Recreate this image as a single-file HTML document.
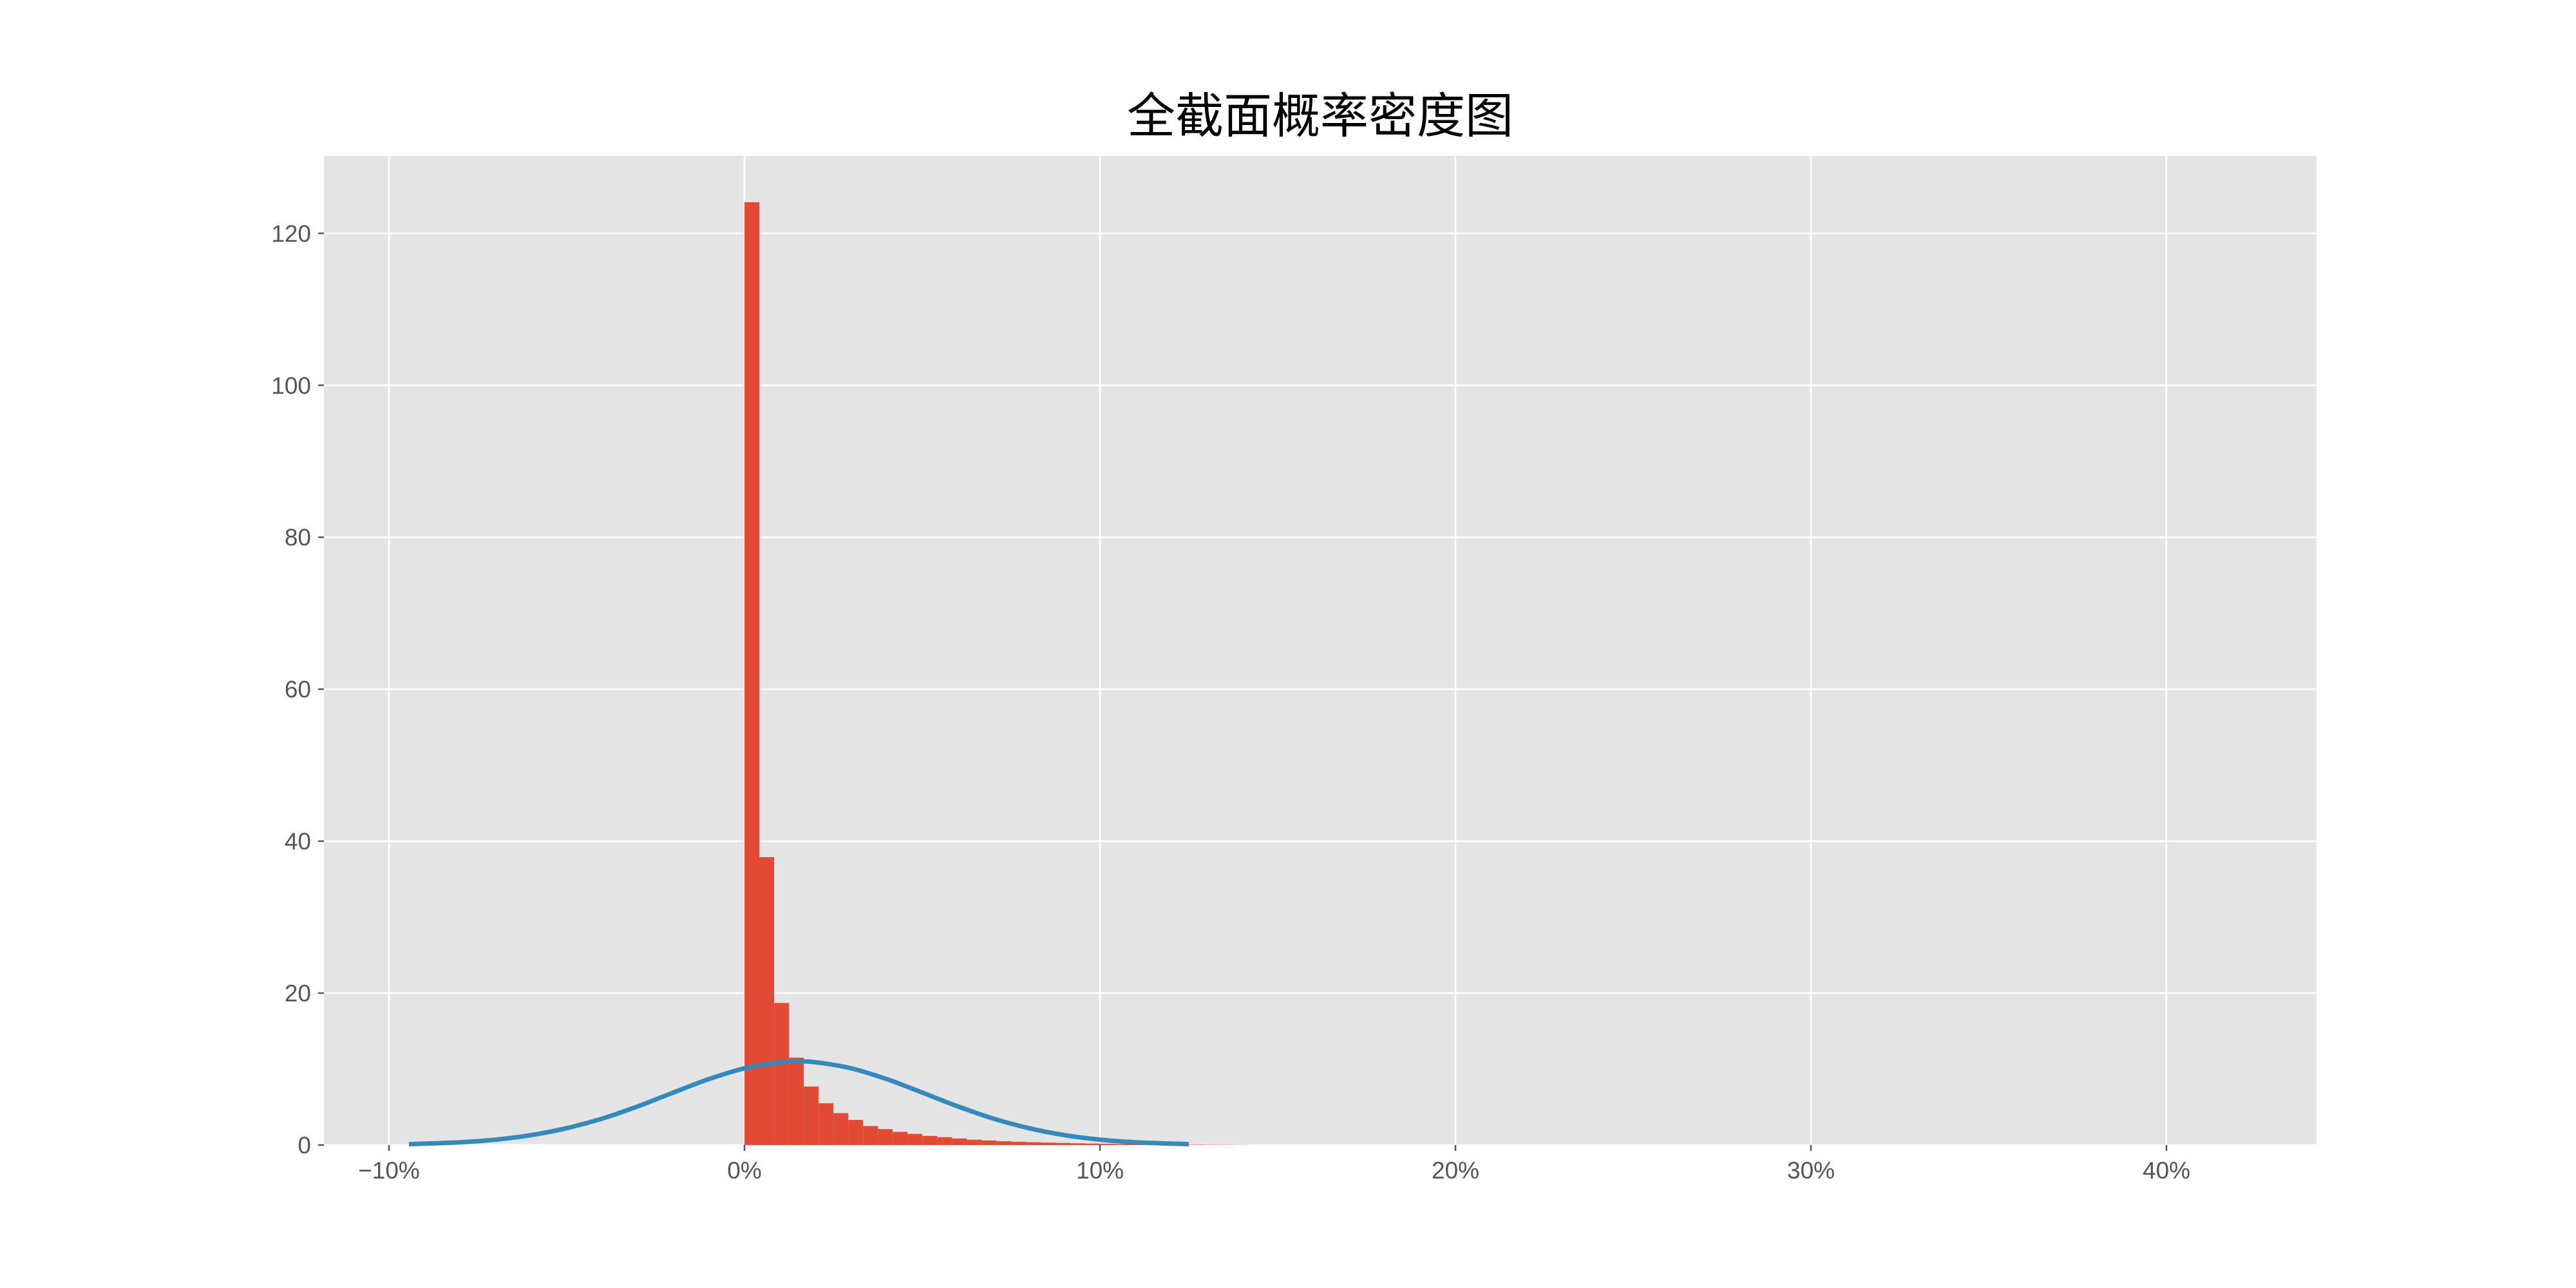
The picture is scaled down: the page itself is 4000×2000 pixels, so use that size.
<!DOCTYPE html>
<html><head><meta charset="utf-8"><style>
html,body{margin:0;padding:0;background:#fff;}
svg{display:block;}
text{font-family:"Liberation Sans","Noto Sans CJK SC",sans-serif;}
</style></head><body>
<svg id="chart" width="4000" height="2000" viewBox="0 0 4000 2000" xmlns="http://www.w3.org/2000/svg">
<rect x="0" y="0" width="4000" height="2000" fill="#fff"/>
<text x="2050" y="206" font-size="75" text-anchor="middle" fill="#000">全截面概率密度图</text>
<rect x="503" y="242" width="3094" height="1536" fill="#E5E5E5"/>
<g id="grid"></g><g id="bars"></g><g id="curve"></g><g id="axes"></g>
</svg>
<script>
const xTicks=[-10,0,10,20,30,40];
const xTickLabels=["\u221210%","0%","10%","20%","30%","40%"];
const yTicks=[0,20,40,60,80,100,120];
const yTickLabels=["0","20","40","60","80","100","120"];
const binStart=0;
const binWidth=0.417;
const binHeights=[124.1,37.9,18.7,11.5,7.7,5.5,4.2,3.3,2.5,2.1,1.73,1.47,1.2,1.04,0.86,0.7,0.6,0.5,0.43,0.37,0.32,0.27,0.23,0.19,0.16,0.13,0.11,0.09,0.07,0.06,0.05,0.04,0.03,0.02];
const curveX=[-9.44,-8,-7,-6,-5,-4,-3,-2,-1,0,1,1.5,2,3,4,5,6,7,8,9,10,11,12.5];
const curveY=[0.11,0.36,0.71,1.31,2.22,3.48,5.09,6.91,8.68,10.1,10.9,11,10.9,10.1,8.68,6.91,5.09,3.48,2.22,1.31,0.71,0.36,0.11];

const L=503,R=3597,T=242,B=1778,xMin=-11.83,xMax=44.22,yMin=0,yMax=130.2;
const sx=v=>L+(v-xMin)/(xMax-xMin)*(R-L);
const sy=v=>B-(v-yMin)/(yMax-yMin)*(B-T);
const NS="http://www.w3.org/2000/svg";
function mk(tag,attrs,parent){const e=document.createElementNS(NS,tag);for(const k in attrs)e.setAttribute(k,attrs[k]);parent.appendChild(e);return e;}
const grid=document.getElementById('grid'),bars=document.getElementById('bars'),curve=document.getElementById('curve'),axes=document.getElementById('axes');
xTicks.forEach((t,i)=>{
  const g=mk('line',{x1:sx(t),x2:sx(t),y1:T,y2:B,stroke:'#fff','stroke-width':2.5},grid);
  
  
  const tk=mk('line',{x1:sx(t),x2:sx(t),y1:B,y2:B+9,stroke:'#555','stroke-width':2.5},axes);
  
  
  const lb=mk('text',{x:sx(t),y:B+52,'font-size':37,'text-anchor':'middle',fill:'#555'},axes);
  lb.textContent=xTickLabels[i];
  
  
});
yTicks.forEach((t,i)=>{
  const g=mk('line',{x1:L,x2:R,y1:sy(t),y2:sy(t),stroke:'#fff','stroke-width':2.5},grid);
  
  
  const tk=mk('line',{x1:L-9,x2:L,y1:sy(t),y2:sy(t),stroke:'#555','stroke-width':2.5},axes);
  
  
  const lb=mk('text',{x:L-20,y:sy(t)+13,'font-size':37,'text-anchor':'end',fill:'#555'},axes);
  lb.textContent=yTickLabels[i];
  
  
});
binHeights.forEach((h,i)=>{
  const x0=sx(binStart+i*binWidth),x1=sx(binStart+(i+1)*binWidth);
  const r=mk('rect',{x:x0,y:sy(h),width:x1-x0,height:sy(0)-sy(h),fill:'#E24A33'},bars);
  
  
});
const pts=curveX.map((x,i)=>[sx(x),sy(curveY[i])]);
let d='M'+pts[0][0]+','+pts[0][1];
for(let i=0;i<pts.length-1;i++){
  const p0=pts[Math.max(0,i-1)],p1=pts[i],p2=pts[i+1],p3=pts[Math.min(pts.length-1,i+2)];
  const c1=[p1[0]+(p2[0]-p0[0])/6,p1[1]+(p2[1]-p0[1])/6];
  const c2=[p2[0]-(p3[0]-p1[0])/6,p2[1]-(p3[1]-p1[1])/6];
  d+=' C'+c1[0]+','+c1[1]+' '+c2[0]+','+c2[1]+' '+p2[0]+','+p2[1];
}
const path=mk('path',{d:d,fill:'none',stroke:'#348ABD','stroke-width':7},curve);


</script>
</body></html>
